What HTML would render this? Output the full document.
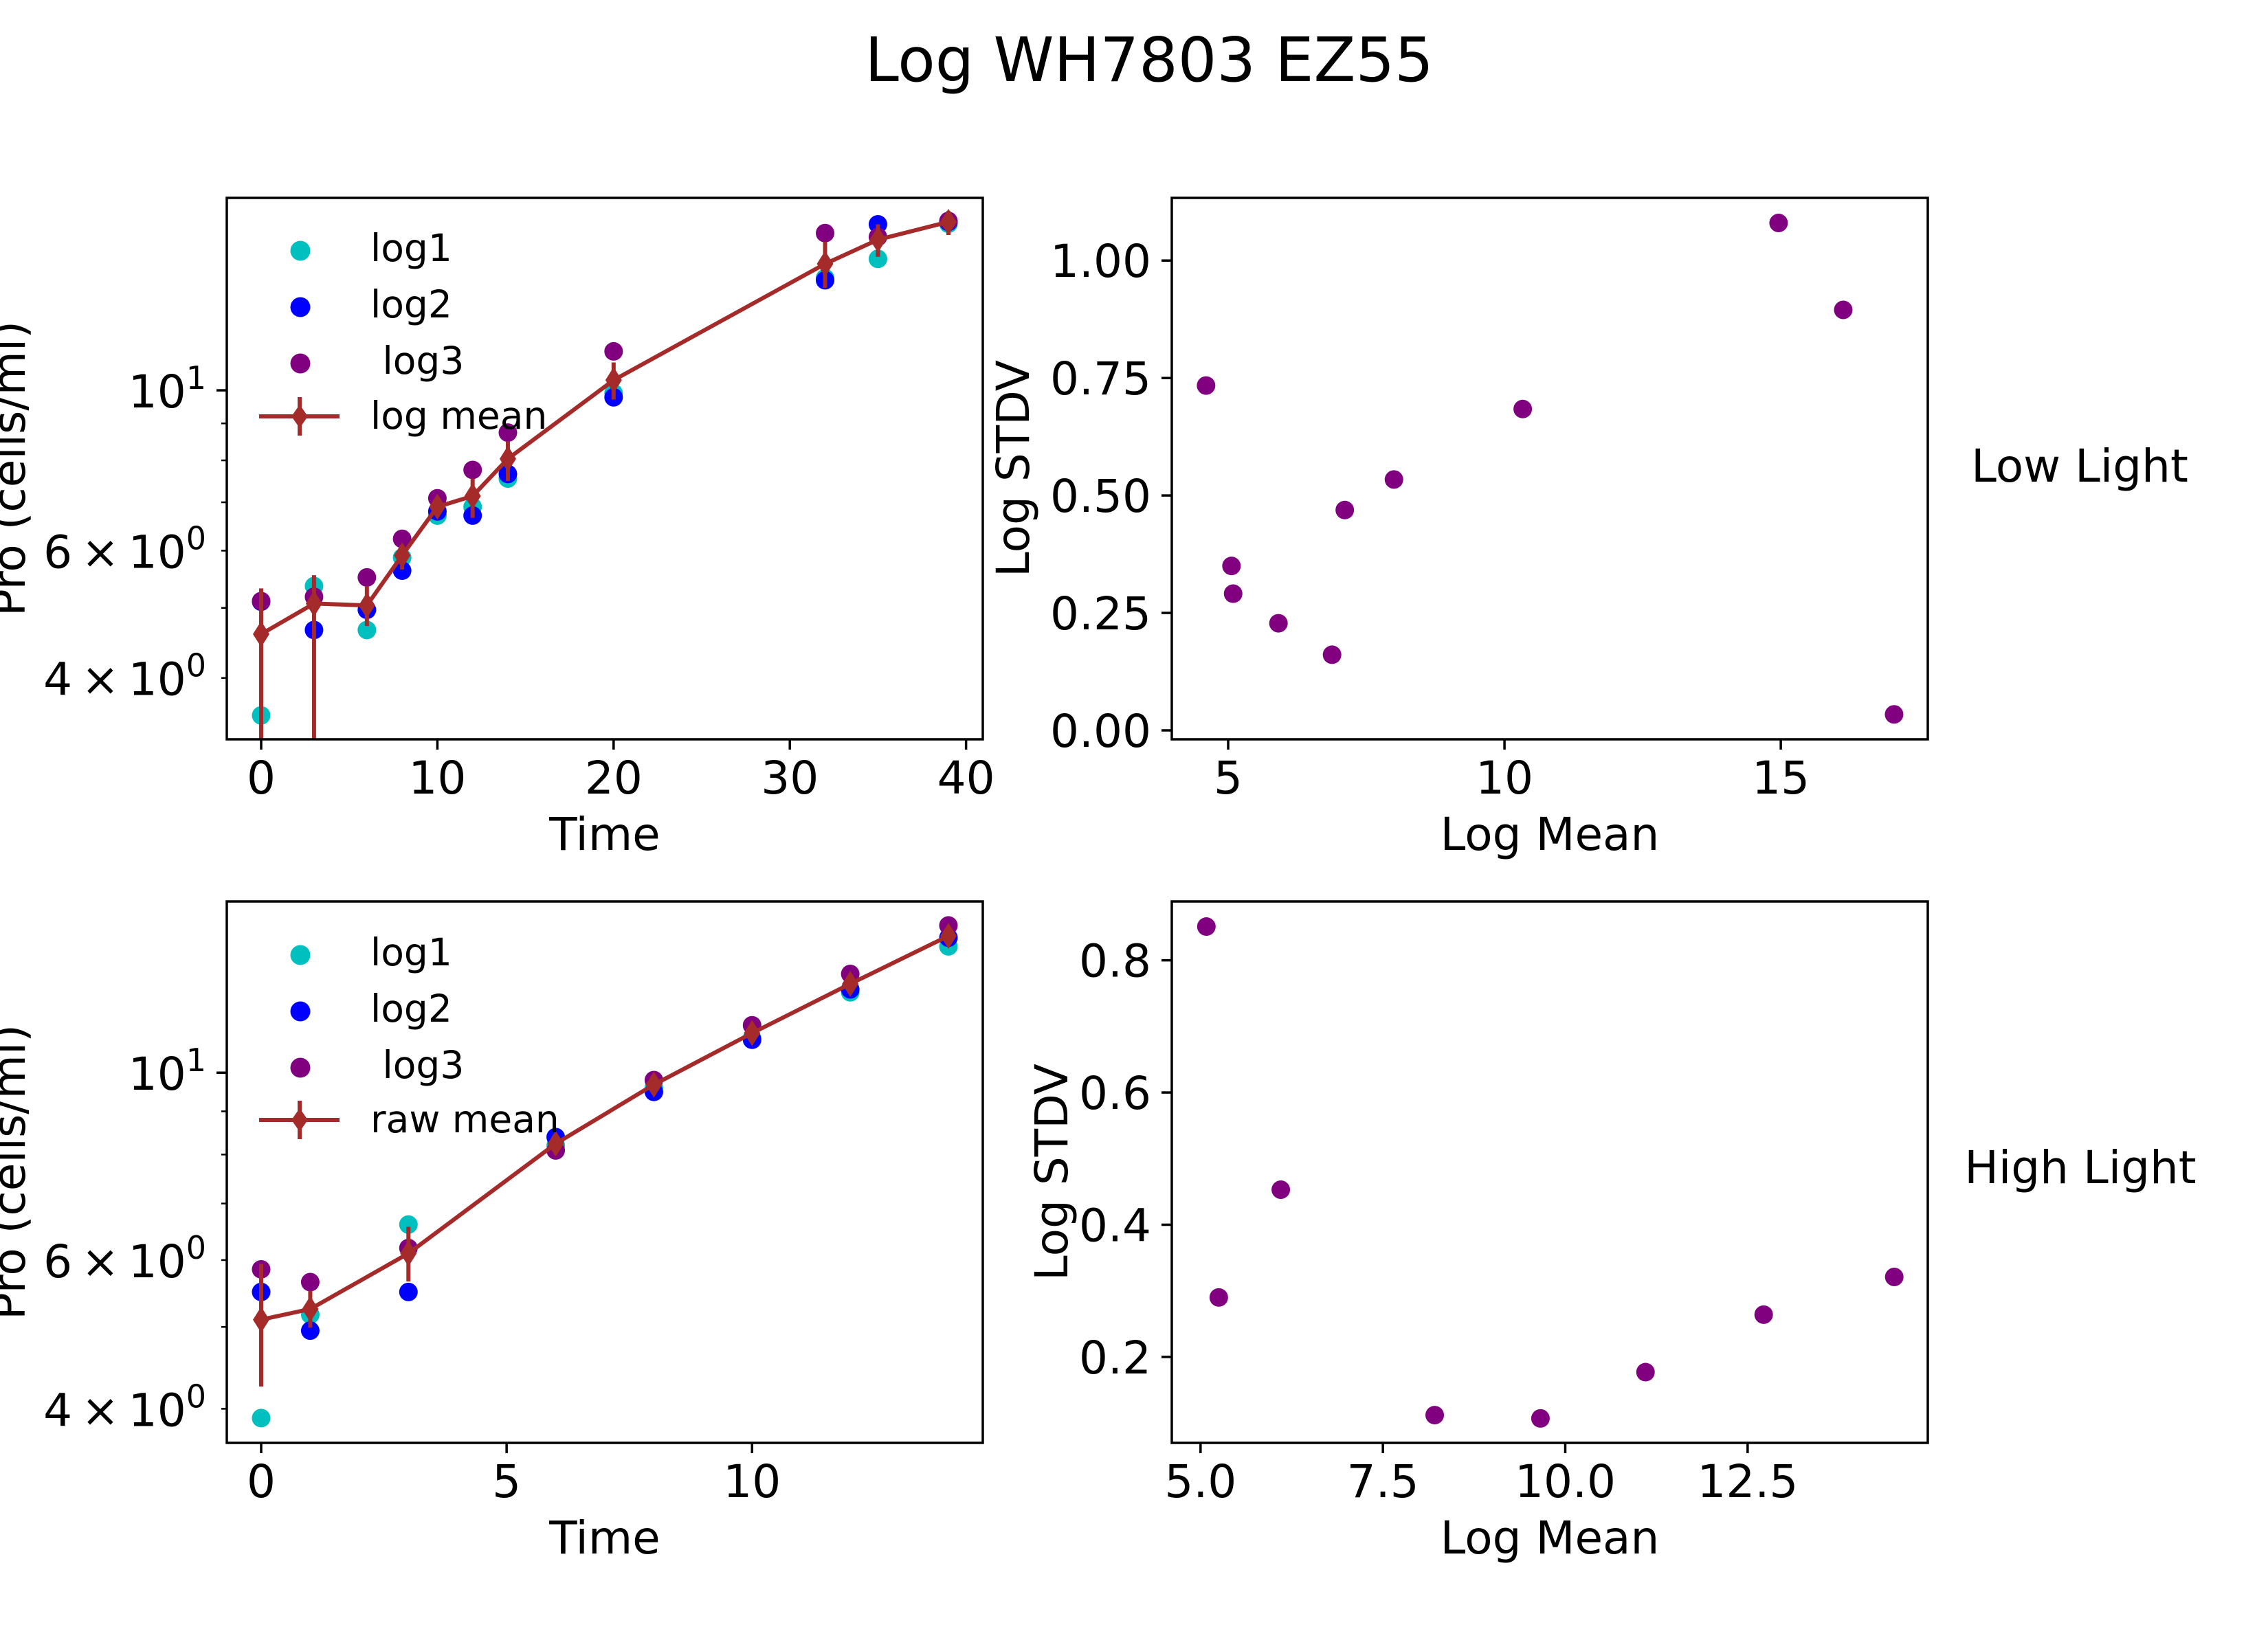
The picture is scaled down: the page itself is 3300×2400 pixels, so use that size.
<!DOCTYPE html>
<html><head><meta charset="utf-8"><style>
html,body{margin:0;padding:0;background:#fff}
svg{display:block}
text{font-family:"DejaVu Sans","Liberation Sans",sans-serif;fill:#000}
</style></head><body>
<svg id="fig" xmlns="http://www.w3.org/2000/svg" width="3300" height="2400" viewBox="0 0 3300 2400">
<rect width="3300" height="2400" fill="#fff"/>
<text x="1672" y="118" font-size="89" text-anchor="middle">Log WH7803 EZ55</text>
<text x="3026" y="701" font-size="66" text-anchor="middle">Low Light</text>
<text x="3027" y="1722" font-size="66" text-anchor="middle">High Light</text>
</svg>
<script>
// ---- Low light time series ----
const timeLow=[0,3,6,8,10,12,14,20,32,35,39];
const log1Low=[3.55,5.36,4.66,5.87,6.71,6.90,7.55,9.91,14.3,15.2,17.0];
const log2Low=[5.1,4.66,4.97,5.63,6.80,6.71,7.66,9.78,14.2,16.97,17.1];
const log3Low=[5.11,5.18,5.51,6.23,7.09,7.76,8.74,11.32,16.5,16.3,17.15];
const meanLow=[4.60,5.07,5.04,5.91,6.90,7.14,8.04,10.33,14.96,16.16,17.1];
const errHiLow=[0.72,0.48,0.32,0.2,0.2,0.41,0.46,0.6,1.09,0.81,0.6];
const errLoLow=[2.0,2.0,0.32,0.26,0.2,0.48,0.55,0.62,1.11,0.86,0.7];
// ---- Low light mean vs std ----
const lmLow=[4.60,5.06,5.09,5.91,6.88,7.11,8.00,10.33,14.96,16.13,17.05];
const lsLow=[0.734,0.350,0.291,0.228,0.161,0.469,0.534,0.684,1.080,0.895,0.034];
// ---- High light time series ----
const timeHigh=[0,1,3,6,8,10,12,14];
const log1High=[3.90,5.17,6.61,8.2,9.6,10.98,12.45,14.11];
const log2High=[5.50,4.95,5.50,8.39,9.49,10.94,12.55,14.45];
const log3High=[5.85,5.65,6.20,8.09,9.80,11.38,13.09,14.94];
const meanHigh=[5.10,5.25,6.11,8.24,9.68,11.14,12.74,14.52];
const errHiHigh=[0.84,0.27,0.46,0.15,0.15,0.15,0.15,0.2];
const errLoHigh=[0.85,0.26,0.45,0.15,0.15,0.15,0.15,0.2];
// ---- High light mean vs std ----
const lmHigh=[5.08,5.25,6.10,8.21,9.66,11.10,12.72,14.51];
const lsHigh=[0.851,0.290,0.453,0.112,0.107,0.177,0.264,0.321];
// ticks
const xTicksTL=[0,10,20,30,40];
const xTicksBL=[0,5,10];
const xTicksTR=[5,10,15];
const yTicksTR=[0,0.25,0.5,0.75,1.0];
const yTickLabelsTR=["0.00","0.25","0.50","0.75","1.00"];
const xTicksBR=[5,7.5,10,12.5];
const xTickLabelsBR=["5.0","7.5","10.0","12.5"];
const yTicksBR=[0.2,0.4,0.6,0.8];
const yTickLabelsBR=["0.2","0.4","0.6","0.8"];
const logMajor=[4,6,10];
const logMinor=[3,5,7,8,9,20];

const NS="http://www.w3.org/2000/svg";
const svg=document.getElementById('fig');
function mk(tag,attrs,parent){const e=document.createElementNS(NS,tag);for(const k in attrs)e.setAttribute(k,attrs[k]);(parent||svg).appendChild(e);return e;}

function makeAxes(id,x0,y0,w,h,xmin,xmax,ymin,ymax,logY){
  const g=mk('g',{});
  
  
  const cp=mk('clipPath',{id:'clip-'+id},g);
  mk('rect',{x:x0,y:y0,width:w,height:h},cp);
  const sx=v=>x0+(v-xmin)/(xmax-xmin)*w;
  const sy=logY?(v=>y0+h-(Math.log10(v)-Math.log10(ymin))/(Math.log10(ymax)-Math.log10(ymin))*h)
               :(v=>y0+h-(v-ymin)/(ymax-ymin)*h);
  const plot=mk('g',{'clip-path':'url(#clip-'+id+')'},g);
  return {g,plot,sx,sy,x0,y0,w,h,xmin,xmax,ymin,ymax};
}
function frame(ax){
  const r=mk('rect',{x:ax.x0,y:ax.y0,width:ax.w,height:ax.h,fill:'none',stroke:'#000','stroke-width':3.5},ax.g);
  
  
}
function xticks(ax,vals,labels){
  vals.forEach((v,i)=>{
    const x=ax.sx(v);
    const t=mk('line',{x1:x,x2:x,y1:ax.y0+ax.h,y2:ax.y0+ax.h+15,stroke:'#000','stroke-width':3.5},ax.g);
    
    
    const l=mk('text',{x:x,y:ax.y0+ax.h+79,'font-size':66,'text-anchor':'middle'},ax.g);
    
    
    l.textContent=labels?labels[i]:String(v);
  });
}
function yticks(ax,vals,labels){
  vals.forEach((v,i)=>{
    const y=ax.sy(v);
    const t=mk('line',{x1:ax.x0-15,x2:ax.x0,y1:y,y2:y,stroke:'#000','stroke-width':3.5},ax.g);
    
    
    const l=mk('text',{x:ax.x0-30,y:y+24,'font-size':66,'text-anchor':'end'},ax.g);
    
    
    l.textContent=labels[i];
  });
}
function logYticks(ax){
  logMinor.forEach(v=>{
    if(v<ax.ymin||v>ax.ymax)return;
    const y=ax.sy(v);
    const t=mk('line',{x1:ax.x0-8,x2:ax.x0,y1:y,y2:y,stroke:'#000','stroke-width':2.5},ax.g);
    
    
  });
  logMajor.forEach(v=>{
    if(v<ax.ymin||v>ax.ymax)return;
    const y=ax.sy(v);
    const big=(v===10);
    const t=mk('line',{x1:ax.x0-(big?15:8),x2:ax.x0,y1:y,y2:y,stroke:'#000','stroke-width':big?3.5:2.5},ax.g);
    
    
    const l=mk('text',{x:ax.x0-30,y:y+25,'font-size':66,'text-anchor':'end'},ax.g);
    
    
    const main=big?'10':(v+'\u2009\u00d7\u200910');
    const s1=mk('tspan',{},l);s1.textContent=main;
    const s2=mk('tspan',{'font-size':46,dy:-27},l);s2.textContent=big?'1':'0';
  });
}
function scatter(ax,xs,ys,color,name){
  xs.forEach((x,i)=>{
    const c=mk('circle',{cx:ax.sx(x),cy:ax.sy(ys[i]),r:13.5,fill:color},ax.plot);
    
    
  });
}
function meanLine(ax,xs,ys,eh,el){
  const col='#a52a2a';
  xs.forEach((x,i)=>{
    const e=mk('line',{x1:ax.sx(x),x2:ax.sx(x),y1:ax.sy(ys[i]+eh[i]),y2:ax.sy(Math.max(ys[i]-el[i],0.1)),stroke:col,'stroke-width':6},ax.plot);
    
    
  });
  const pts=xs.map((x,i)=>ax.sx(x)+','+ax.sy(ys[i])).join(' ');
  const pl=mk('polyline',{points:pts,fill:'none',stroke:col,'stroke-width':6},ax.plot);
  
  
  xs.forEach((x,i)=>{
    const cx=ax.sx(x),cy=ax.sy(ys[i]);
    const d=mk('polygon',{points:`${cx},${cy-19} ${cx+12},${cy} ${cx},${cy+19} ${cx-12},${cy}`,fill:col},ax.plot);
    
    
  });
}
function legend(ax,rowY,meanLabel){
  const lg=mk('g',{},ax.g);
  
  
  const items=[['#00bfbf','log1'],['#0000ff','log2'],['#800080','\u00a0log3']];
  items.forEach((it,i)=>{
    const c=mk('circle',{cx:437,cy:rowY[i],r:14.5,fill:it[0]},lg);
    
    
    const t=mk('text',{x:539,y:rowY[i]+15,'font-size':55},lg);
    
    
    t.textContent=it[1];
  });
  const y=rowY[3],col='#a52a2a';
  const l1=mk('line',{x1:377,x2:494,y1:y,y2:y,stroke:col,'stroke-width':6},lg);
  
  
  const l2=mk('line',{x1:436,x2:436,y1:y-28,y2:y+28,stroke:col,'stroke-width':6},lg);
  
  
  const d=mk('polygon',{points:`436,${y-17} 448,${y} 436,${y+17} 424,${y}`,fill:col},lg);
  
  
  const t=mk('text',{x:539,y:y+18,'font-size':55},lg);
  
  
  t.textContent=meanLabel;
}
function xlabel(ax,txt){
  const t=mk('text',{x:ax.x0+ax.w/2,y:ax.y0+ax.h+161,'font-size':66,'text-anchor':'middle'},ax.g);
  
  
  t.textContent=txt;
}
function ylabel(ax,txt,bx){
  const cy=ax.y0+ax.h/2;
  const t=mk('text',{x:bx,y:cy,'font-size':66,'text-anchor':'middle',transform:`rotate(-90 ${bx} ${cy})`},ax.g);
  
  
  t.textContent=txt;
}

// Top-left
const tl=makeAxes('low-light-timeseries',330,288,1100,788,-1.95,40.95,3.29,18.46,true);
scatter(tl,timeLow,log1Low,'#00bfbf','log1-point');
scatter(tl,timeLow,log2Low,'#0000ff','log2-point');
scatter(tl,timeLow,log3Low,'#800080','log3-point');
meanLine(tl,timeLow,meanLow,errHiLow,errLoLow);
frame(tl);xticks(tl,xTicksTL);logYticks(tl);
legend(tl,[365,447,529,606],'log mean');
xlabel(tl,'Time');ylabel(tl,'Pro (cells/ml)',36);

// Top-right
const tr=makeAxes('low-light-std',1705,288,1100,788,3.98,17.66,-0.019,1.1334,false);
scatter(tr,lmLow,lsLow,'#800080','std-point');
frame(tr);xticks(tr,xTicksTR);yticks(tr,yTicksTR,yTickLabelsTR);
xlabel(tr,'Log Mean');ylabel(tr,'Log STDV',1497);

// Bottom-left
const bl=makeAxes('high-light-timeseries',330,1312,1100,788,-0.7,14.7,3.645,15.95,true);
scatter(bl,timeHigh,log1High,'#00bfbf','log1-point');
scatter(bl,timeHigh,log2High,'#0000ff','log2-point');
scatter(bl,timeHigh,log3High,'#800080','log3-point');
meanLine(bl,timeHigh,meanHigh,errHiHigh,errLoHigh);
frame(bl);xticks(bl,xTicksBL);logYticks(bl);
legend(bl,[1390,1472,1554,1630],'raw mean');
xlabel(bl,'Time');ylabel(bl,'Pro (cells/ml)',36);

// Bottom-right
const br=makeAxes('high-light-std',1705,1312,1100,788,4.606,14.97,0.070,0.889,false);
scatter(br,lmHigh,lsHigh,'#800080','std-point');
frame(br);xticks(br,xTicksBR,xTickLabelsBR);yticks(br,yTicksBR,yTickLabelsBR);
xlabel(br,'Log Mean');ylabel(br,'Log STDV',1553);
</script>
</body></html>
